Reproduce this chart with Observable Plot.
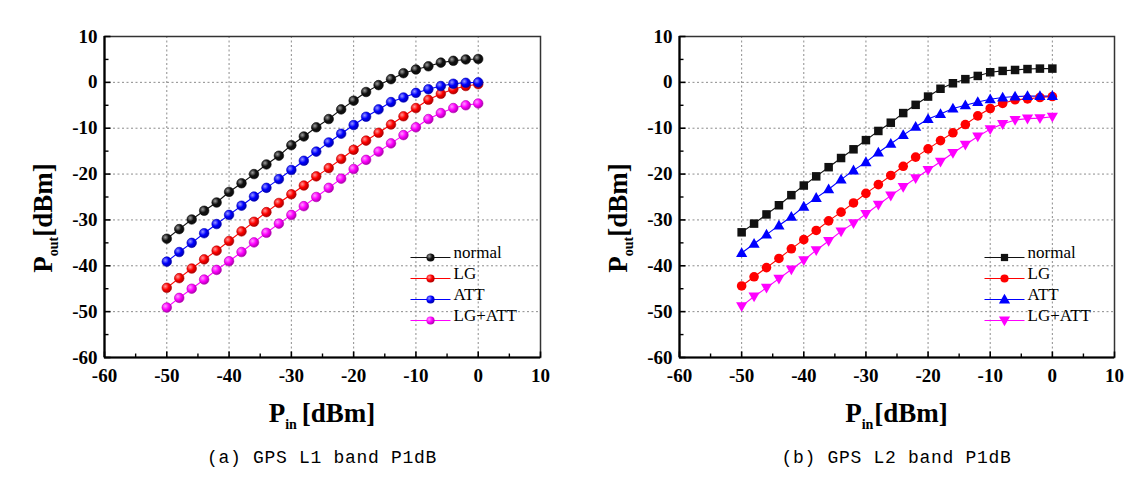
<!DOCTYPE html>
<html><head><meta charset="utf-8">
<script src="https://cdn.jsdelivr.net/npm/d3@7"></script>
<script src="https://cdn.jsdelivr.net/npm/@observablehq/plot@0.6"></script>
<style>
body{margin:0;background:#fff;}
#wrap{display:flex;width:1140px;}
.panel{width:570px;}
.cap{font-family:"Liberation Mono",monospace;font-size:18px;letter-spacing:0.7px;text-align:center;line-height:22px;margin-top:7px;white-space:pre;color:#000;}
</style></head><body><div id="wrap"></div>
<script>
// ---- data ----
const pin = [-50,-48,-46,-44,-42,-40,-38,-36,-34,-32,-30,-28,-26,-24,-22,-20,-18,-16,-14,-12,-10,-8,-6,-4,-2,0];
const seriesNames = ["normal","LG","ATT","LG+ATT"];
const seriesColors = ["#111111","#ff0000","#0000ff","#ff00ff"];

const l1Normal = [-34.1,-32.0,-29.9,-28.0,-26.2,-23.9,-22.0,-20.0,-17.9,-16.0,-13.7,-11.8,-9.8,-8.0,-5.9,-4.0,-2.1,-0.6,0.7,2.0,2.8,3.5,4.3,4.7,5.0,5.1];
const l1LG     = [-44.8,-42.7,-40.6,-38.6,-36.7,-34.6,-32.5,-30.4,-28.3,-26.3,-24.4,-22.5,-20.5,-18.7,-16.7,-14.7,-12.7,-11.0,-9.2,-7.4,-5.6,-3.8,-2.5,-1.5,-0.8,-0.4];
const l1ATT    = [-39.1,-37.0,-35.0,-32.9,-30.9,-28.9,-26.9,-24.9,-23.0,-21.1,-19.1,-17.1,-15.1,-13.1,-11.2,-9.3,-7.5,-5.9,-4.3,-3.3,-2.3,-1.5,-0.8,-0.3,-0.1,0.0];
const l1LGATT  = [-49.1,-47.0,-45.0,-43.0,-40.9,-39.0,-37.0,-34.9,-32.8,-30.8,-28.9,-27.0,-25.0,-23.0,-21.0,-18.9,-16.9,-15.1,-13.3,-11.5,-9.8,-8.0,-6.7,-5.6,-5.0,-4.6];

const l2Normal = [-32.7,-30.8,-28.8,-26.8,-24.6,-22.5,-20.5,-18.5,-16.5,-14.6,-12.6,-10.6,-8.8,-6.7,-4.9,-3.1,-1.4,-0.2,0.7,1.4,2.2,2.5,2.7,2.9,3.0,3.0];
const l2LG     = [-44.4,-42.4,-40.4,-38.4,-36.3,-34.3,-32.3,-30.2,-28.3,-26.3,-24.2,-22.3,-20.3,-18.3,-16.3,-14.5,-12.7,-11.0,-9.2,-7.3,-5.7,-4.6,-3.8,-3.6,-3.3,-3.1];
const l2ATT    = [-37.2,-35.2,-33.2,-31.2,-29.3,-27.1,-25.2,-23.3,-21.2,-19.2,-17.4,-15.3,-13.4,-11.5,-9.7,-8.0,-6.9,-5.7,-5.0,-4.3,-3.7,-3.3,-3.1,-3.0,-3.0,-3.0];
const l2LGATT  = [-48.8,-46.7,-44.8,-42.8,-40.8,-38.8,-36.6,-34.6,-32.5,-30.7,-28.7,-26.7,-24.7,-22.8,-20.9,-19.1,-17.3,-15.4,-13.6,-11.8,-10.2,-9.1,-8.2,-7.9,-7.8,-7.5];

const xDomain = [-60, 10];
const yDomain = [-60, 10];
const majorTicks = [-60,-50,-40,-30,-20,-10,0,10];
const minorTicks = [-55,-45,-35,-25,-15,-5,5];
const gridVals = [-50,-40,-30,-20,-10,0];
const captions = ["(a) GPS L1 band P1dB", "(b) GPS L2 band P1dB"];

// ---- symbols ----
const tickRight = (len) => ({draw(ctx){ ctx.moveTo(0,0); ctx.lineTo(len,0); }});
const tickUp = (len) => ({draw(ctx){ ctx.moveTo(0,0); ctx.lineTo(0,-len); }});
const legendLine = {draw(ctx){ ctx.moveTo(-20,0); ctx.lineTo(20,0); }};
const triUp = {draw(ctx){ ctx.moveTo(0,-5.8); ctx.lineTo(5.6,4); ctx.lineTo(-5.6,4); ctx.closePath(); }};
const triDown = {draw(ctx){ ctx.moveTo(0,5.8); ctx.lineTo(5.6,-4); ctx.lineTo(-5.6,-4); ctx.closePath(); }};

const W = 570, H = 440, MT = 36, MB = 83;
const SERIF = "'Liberation Serif', 'Times New Roman', serif";

function makePanel({id, values, symbols, radii, sphere, marginLeft, marginRight, caption, xSuffix}) {
  const rows = seriesNames.flatMap((s, i) => pin.map((p, j) => ({pin: p, pout: values[i][j], series: s})));
  const marks = [
    Plot.ruleX(gridVals, {stroke: "#8c8c8c", strokeDasharray: "2,2.5", strokeWidth: 1}),
    Plot.ruleY(gridVals, {stroke: "#8c8c8c", strokeDasharray: "2,2.5", strokeWidth: 1}),
    Plot.frame({stroke: "#333", strokeWidth: 1.5}),
    Plot.ruleX([xDomain[0]], {stroke: "#000", strokeWidth: 2.2}),
    Plot.ruleY([yDomain[0]], {stroke: "#000", strokeWidth: 2.2}),
    Plot.dot(majorTicks, {y: d => d, frameAnchor: "left", symbol: tickRight(6), stroke: "#000", fill: "none", strokeWidth: 1.6}),
    Plot.dot(minorTicks, {y: d => d, frameAnchor: "left", symbol: tickRight(4), stroke: "#000", fill: "none", strokeWidth: 1.4}),
    Plot.dot(majorTicks, {x: d => d, frameAnchor: "bottom", symbol: tickUp(6), stroke: "#000", fill: "none", strokeWidth: 1.6}),
    Plot.dot(minorTicks, {x: d => d, frameAnchor: "bottom", symbol: tickUp(4), stroke: "#000", fill: "none", strokeWidth: 1.4}),
    Plot.axisX(majorTicks, {tickSize: 0, tickPadding: 11, tickFormat: d => String(d), label: null, fontFamily: SERIF, fontWeight: "bold", fontSize: 19}),
    Plot.axisY(majorTicks, {tickSize: 0, tickPadding: 7, tickFormat: d => String(d), label: null, fontFamily: SERIF, fontWeight: "bold", fontSize: 19}),
    ...seriesNames.map((s, i) => Plot.line(rows.filter(r => r.series === s), {x: "pin", y: "pout", stroke: seriesColors[i], strokeWidth: 1.1})),
    ...seriesNames.map((s, i) => Plot.dot(rows.filter(r => r.series === s), {
      x: "pin", y: "pout", symbol: symbols[i], r: radii[i],
      fill: sphere ? `url(#${id}-g${i})` : seriesColors[i],
      stroke: sphere ? d3.interpolateRgb(seriesColors[i], "#000")(0.3) : "none", strokeWidth: 0.6
    })),
    // legend
    ...seriesNames.map((s, i) => Plot.dot([s], {x: null, y: null, frameAnchor: "bottom-right", dx: -110, dy: -100 + 21 * i, symbol: legendLine, stroke: seriesColors[i], fill: "none", strokeWidth: 1.2})),
    ...seriesNames.map((s, i) => Plot.dot([s], {x: null, y: null, frameAnchor: "bottom-right", dx: -110, dy: -100 + 21 * i, symbol: symbols[i], r: radii[i] * 0.85,
      fill: sphere ? `url(#${id}-g${i})` : seriesColors[i], stroke: "none"})),
    ...seriesNames.map((s, i) => Plot.text([s], {x: null, y: null, text: d => d, frameAnchor: "bottom-right", dx: -87, dy: -100 + 21 * i, textAnchor: "start",
      fontFamily: SERIF, fontSize: 17, fontWeight: "normal", fill: "#000"}))
  ];
  const svg = Plot.plot({
    width: W, height: H, marginTop: MT, marginBottom: MB, marginLeft, marginRight,
    x: {domain: xDomain}, y: {domain: yDomain},
    style: {fontFamily: SERIF, fontSize: "19px", fontWeight: "bold", color: "#000", background: "#fff"},
    marks
  });
  const s = d3.select(svg);
  const defs = s.append("defs");
  seriesColors.forEach((c, i) => {
    const g = defs.append("radialGradient").attr("id", `${id}-g${i}`).attr("cx", "35%").attr("cy", "35%").attr("r", "70%");
    g.append("stop").attr("offset", "0%").attr("stop-color", d3.interpolateRgb(c, "#fff")(0.6));
    g.append("stop").attr("offset", "50%").attr("stop-color", c);
    g.append("stop").attr("offset", "100%").attr("stop-color", d3.interpolateRgb(c, "#000")(0.35));
  });
  const fw = W - marginLeft - marginRight;
  // y label
  const yl = s.append("text").attr("transform", `translate(${marginLeft - 52},218) rotate(-90)`)
    .attr("text-anchor", "middle").style("font-family", SERIF).style("font-weight", "bold").style("font-size", "27px").attr("fill", "#000");
  yl.append("tspan").text("P");
  yl.append("tspan").style("font-size", "14px").attr("dy", 6).text("out");
  yl.append("tspan").attr("dy", -6).text("[dBm]");
  // x label
  const xl = s.append("text").attr("x", marginLeft + fw / 2).attr("y", 422)
    .attr("text-anchor", "middle").style("font-family", SERIF).style("font-weight", "bold").style("font-size", "27px").attr("fill", "#000");
  xl.append("tspan").text("P");
  xl.append("tspan").style("font-size", "14px").attr("dy", 7).text("in");
  xl.append("tspan").attr("dy", -7).attr("dx", xSuffix).text("[dBm]");

  const div = document.createElement("div");
  div.className = "panel";
  div.appendChild(svg);
  const cap = document.createElement("div");
  cap.className = "cap";
  cap.style.marginLeft = marginLeft + "px";
  cap.style.width = fw + "px";
  cap.textContent = caption;
  div.appendChild(cap);
  document.getElementById("wrap").appendChild(div);
}

makePanel({id: "p1", values: [l1Normal, l1LG, l1ATT, l1LGATT], symbols: ["circle","circle","circle","circle"], radii: [4.8,4.8,4.8,4.8], sphere: true,
  marginLeft: 104, marginRight: 30, caption: captions[0], xSuffix: 5});
makePanel({id: "p2", values: [l2Normal, l2LG, l2ATT, l2LGATT], symbols: ["square","circle",triUp,triDown], radii: [4.8,4.8,5,5], sphere: false,
  marginLeft: 109, marginRight: 26, caption: captions[1], xSuffix: 1});
</script>
</body></html>
